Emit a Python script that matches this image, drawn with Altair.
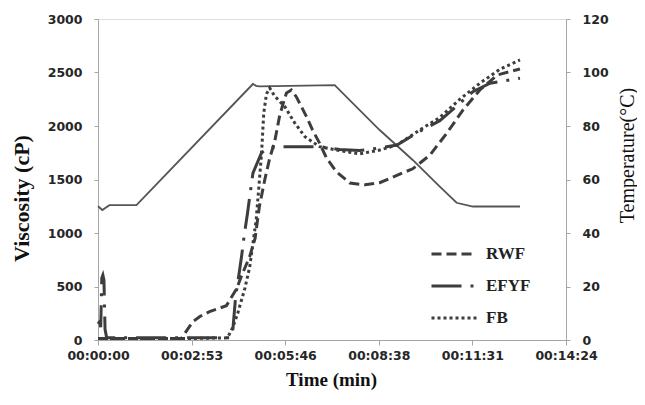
import altair as alt
import pandas as pd

# ---- data (time in seconds) ----
tick_labels = ["00:00:00", "00:02:53", "00:05:46", "00:08:38", "00:11:31", "00:14:24"]
tick_seconds = [0, 172.8, 345.6, 518.4, 691.2, 864]
visc_ticks = [0, 500, 1000, 1500, 2000, 2500, 3000]
temp_ticks = [0, 20, 40, 60, 80, 100, 120]

series_names = ["RWF", "EFYF", "FB"]

rwf_t = [0, 60, 120, 154, 175, 188, 206, 237, 256, 265, 280, 290, 298, 308, 317, 326, 335, 344, 348, 357,
         366, 385, 396, 409, 422, 440, 465, 493, 520, 557, 581, 613, 644, 674, 705, 737, 779]
rwf_v = [15, 15, 15, 15, 170, 220, 265, 320, 480, 600, 780, 950, 1250, 1500, 1700, 1850, 2087, 2250, 2308, 2337,
         2274, 2087, 1963, 1840, 1700, 1573, 1467, 1450, 1470, 1550, 1600, 1729, 1934, 2150, 2337, 2477, 2533]

efyf_t = [0, 3, 5, 7, 9, 11, 13, 16, 60, 120, 180, 230, 243, 249, 254, 261, 265, 270, 276, 286, 302, 313,
          340, 409, 446, 483, 520, 552, 594, 631, 663, 692, 724, 779]
efyf_v = [150, 170, 120, 580, 607, 560, 100, 20, 20, 20, 20, 20, 20, 100, 400, 640, 780, 980, 1184, 1560, 1750, 1795,
          1807, 1807, 1780, 1770, 1795, 1822, 1950, 2050, 2190, 2320, 2400, 2446]

fb_t = [0, 60, 120, 180, 239, 249, 258, 271, 280, 292, 298, 302, 306, 311, 317, 326, 345, 363, 382, 409,
        446, 483, 520, 552, 594, 631, 668, 705, 742, 779]
fb_v = [15, 15, 15, 15, 20, 120, 250, 480, 680, 1121, 1495, 1750, 2121, 2300, 2355, 2280, 2180, 2030, 1900, 1807,
        1770, 1740, 1775, 1822, 1963, 2080, 2250, 2400, 2530, 2617]

temp_t = [0, 8, 21, 71, 286, 292, 298, 437, 520, 581, 631, 662, 692, 779]
temp_c = [50, 48.6, 50.4, 50.4, 95.7, 95.0, 94.8, 95.3, 78.5, 67.3, 57.3, 51.3, 49.9, 49.9]

# ---- tables ----
rows = []
for name, ts, vs in zip(series_names, [rwf_t, efyf_t, fb_t], [rwf_v, efyf_v, fb_v]):
    for t, v in zip(ts, vs):
        rows.append({"t": t, "v": v, "series": name})
visc = pd.DataFrame(rows)
temp = pd.DataFrame({"t": temp_t, "temp": temp_c})

label_expr = "[" + ",".join("'" + s + "'" for s in tick_labels) + "][round(datum.value / 172.8)]"

axis_common = dict(
    domainColor="#a6a6a6", tickColor="#a6a6a6", grid=False,
    labelFont="DejaVu Sans", labelFontWeight="bold", labelFontSize=12.5, labelColor="#262626",
    titleColor="#111111", titleFont="Liberation Serif",
)

x_enc = alt.X(
    "t:Q",
    scale=alt.Scale(domain=[0, 864], nice=False, zero=False),
    axis=alt.Axis(values=tick_seconds, labelExpr=label_expr, title="Time (min)",
                  labelPadding=4, tickSize=5, titleFontSize=19, titleFontWeight="bold",
                  titleX=233, titleY=45, titleBaseline="alphabetic", labelFlush=False,
                  **axis_common),
)

visc_lines = alt.Chart(visc).mark_line(strokeWidth=3, color="#3d3d3d").encode(
    x=x_enc,
    y=alt.Y("v:Q", scale=alt.Scale(domain=[0, 3000], nice=False),
            axis=alt.Axis(values=visc_ticks, format="d", title="Viscosity (cP)", labelPadding=12,
                          tickSize=4, titleFontSize=22, titleFontWeight="bold", titleAngle=270,
                          titleX=-65, titleY=179, titleBaseline="bottom", titleAlign="center",
                          **axis_common)),
    strokeDash=alt.StrokeDash(
        "series:N",
        scale=alt.Scale(domain=series_names, range=[[10, 5], [30, 9, 3, 9], [3, 3]]),
        legend=alt.Legend(orient="none", legendX=332, legendY=211, title=None,
                          symbolType="stroke", symbolSize=2025, symbolStrokeWidth=3,
                          symbolStrokeColor="#3d3d3d", labelFont="Liberation Serif",
                          labelFontWeight="bold", labelFontSize=17, labelColor="#222222",
                          rowPadding=-12, labelOffset=8),
    ),
    detail="series:N",
)

temp_line = alt.Chart(temp).mark_line(strokeWidth=1.8, color="#555555").encode(
    x=alt.X("t:Q"),
    y=alt.Y("temp:Q", scale=alt.Scale(domain=[0, 120], nice=False),
            axis=alt.Axis(values=temp_ticks, format="d", orient="right", title="Temperature(°C)",
                          labelPadding=12, tickSize=4, titleFontSize=20, titleFontWeight="normal",
                          titleAngle=270, titleX=71, titleY=136, titleBaseline="bottom",
                          titleAlign="center", **axis_common)),
)

chart = alt.layer(temp_line, visc_lines).resolve_scale(y="independent").properties(
    width=468, height=321,
    autosize=alt.AutoSizeParams(type="none"),
    padding={"left": 90, "top": 11, "right": 71, "bottom": 57},
).configure_view(stroke=None).configure(background="white")

chart.save("out.html", embed_options={"renderer": "svg", "actions": False})
